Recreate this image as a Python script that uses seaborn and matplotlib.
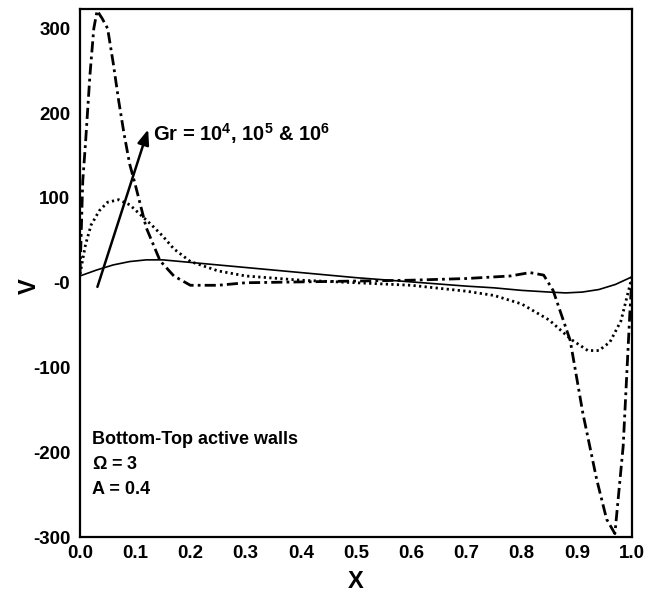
import pandas as pd
import numpy as np
import matplotlib
matplotlib.use("Agg")
import matplotlib.pyplot as plt
import seaborn as sns

# values
x_gr4 = [0.0, 0.03, 0.06, 0.09, 0.12, 0.15, 0.2, 0.25, 0.3, 0.4, 0.5, 0.6, 0.7, 0.75, 0.8,
         0.85, 0.88, 0.91, 0.94, 0.97, 1.0]
v_gr4 = [8, 15, 21, 25, 27, 27, 24, 21, 18, 12, 6, 1, -4, -6, -9,
         -11, -12, -11, -8, -2, 7]

x_gr5 = [0.0, 0.01, 0.02, 0.035, 0.05, 0.07, 0.09, 0.11, 0.13, 0.15, 0.17, 0.2, 0.25, 0.3,
         0.4, 0.5, 0.6, 0.7, 0.75, 0.8, 0.85, 0.89, 0.92, 0.94, 0.96, 0.98, 1.0]
v_gr5 = [10, 45, 68, 85, 95, 98, 92, 80, 68, 55, 40, 25, 14, 8,
         3, 0, -3, -10, -15, -25, -44, -67, -80, -80, -70, -45, 7]

x_gr6 = [0.0, 0.005, 0.01, 0.018, 0.025, 0.031, 0.04, 0.05, 0.06, 0.07, 0.08, 0.09, 0.1,
         0.12, 0.145, 0.17, 0.2, 0.25, 0.3, 0.4, 0.5, 0.6, 0.7, 0.78, 0.815, 0.84, 0.857,
         0.888, 0.911, 0.936, 0.954, 0.969, 0.984, 0.996, 1.0]
v_gr6 = [10, 120, 165, 245, 300, 321, 312, 300, 260, 215, 175, 140, 116,
         65, 26, 8, -3, -3, 0, 1, 2, 3, 5, 8, 12, 9, -9,
         -68, -154, -232, -279, -296, -193, -37, 7]

x_ticks = [0.0, 0.1, 0.2, 0.3, 0.4, 0.5, 0.6, 0.7, 0.8, 0.9, 1.0]
y_ticks = [300, 200, 100, 0, -100, -200, -300]
y_tick_labels = ["300", "200", "100", "-0", "-100", "-200", "-300"]

sns.set_style("white")
plt.rcParams['font.family'] = ['Liberation Sans', 'DejaVu Sans']
plt.rcParams['font.weight'] = 'bold'
plt.rcParams['mathtext.fontset'] = 'custom'
plt.rcParams['mathtext.bf'] = 'Liberation Sans:bold'
plt.rcParams['mathtext.rm'] = 'Liberation Sans:bold'
plt.rcParams['text.color'] = 'black'
plt.rcParams['axes.labelcolor'] = 'black'
plt.rcParams['xtick.color'] = 'black'
plt.rcParams['ytick.color'] = 'black'

fig = plt.figure(figsize=(6.62, 5.94), dpi=100)
ax = fig.add_axes([80 / 662, 57 / 594, 552 / 662, 528 / 594])

sns.lineplot(x=x_gr4, y=v_gr4, ax=ax, color='black', lw=1.2, linestyle='-', sort=False)
sns.lineplot(x=x_gr5, y=v_gr5, ax=ax, color='black', lw=2.0, linestyle=(0, (0.8, 1.2)), sort=False)
sns.lineplot(x=x_gr6, y=v_gr6, ax=ax, color='black', lw=2.0, linestyle=(0, (4, 1.5, 1, 1.5)), sort=False)

ax.set_xlim(0, 1)
ax.set_ylim(-297, 323)
ax.set_xticks(x_ticks)
ax.set_xticklabels([f"{t:.1f}" for t in x_ticks])
ax.set_yticks(y_ticks)
ax.set_yticklabels(y_tick_labels)
ax.tick_params(length=0, labelsize=13.5, pad=6)
ax.tick_params(axis='y', pad=7)
for lab in ax.get_xticklabels() + ax.get_yticklabels():
    lab.set_fontweight('bold')

for s in ax.spines.values():
    s.set_linewidth(1.6)
    s.set_color('black')

ax.set_xlabel("X", fontsize=17, fontweight='bold')
ax.xaxis.set_label_coords(0.5, -0.062)
ax.set_ylabel("V", fontsize=17, fontweight='bold')
ax.yaxis.set_label_coords(-0.071, 0.475)

# arrow for increasing Gr
ax.annotate("", xy=(0.125, 184), xytext=(0.03, -8),
            arrowprops=dict(arrowstyle='-|>,head_length=0.9,head_width=0.35', color='black', lw=1.8))
ax.text(0.133, 176, r"Gr = 10$^{\mathbf{4}}$, 10$^{\mathbf{5}}$ & 10$^{\mathbf{6}}$",
        fontsize=14.5, fontweight='bold', va='center', ha='left')

ax.text(0.022, -185, "Bottom-Top active walls", fontsize=13, fontweight='bold', va='center')
ax.text(0.022, -214, r"$\mathbf{\Omega}$ = 3", fontsize=13, fontweight='bold', va='center')
ax.text(0.022, -244, "A = 0.4", fontsize=13, fontweight='bold', va='center')

plt.savefig("out.png", dpi=100)
